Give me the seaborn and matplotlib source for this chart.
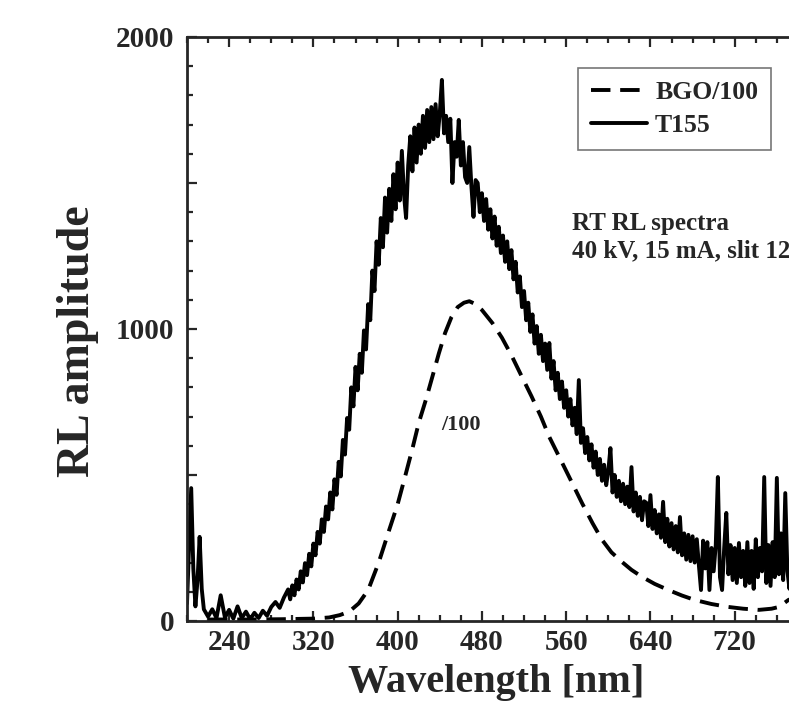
import numpy as np
import pandas as pd
import matplotlib
matplotlib.use("Agg")
import matplotlib.pyplot as plt
from matplotlib.ticker import MultipleLocator, FuncFormatter
import seaborn as sns

sns.set_style("ticks")
plt.rcParams['font.family'] = ['Liberation Serif', 'DejaVu Serif']
plt.rcParams['font.weight'] = 'bold'

## T155 RL spectrum (nm / amplitude)
## low part sampled coarser, from 296 nm on every 2 nm
t155_wl = ([200, 202, 204, 206, 208, 210, 212, 214, 216,
            220, 224, 228, 232, 236, 240, 244, 248, 252, 256, 260, 264, 268, 272, 276, 280,
            284, 288, 292]
           + list(range(296, 798, 2)))
t155_amp = [60, 260, 455, 180, 50, 140, 288, 110, 40,
            15, 40, 10, 88, 12, 38, 8, 50, 10, 32, 6, 28, 10, 35, 18, 48,
            65, 45, 80,
            108, 74, 122, 88, 142, 108, 170, 132, 198, 157,          # 296-314
            230, 187, 265, 225, 305, 265, 348, 305, 392, 348,        # 316-334
            440, 382, 485, 432, 545, 495, 620, 570, 695, 655,        # 336-354
            800, 735, 870, 790, 915, 850, 995, 930, 1085, 1030,      # 356-374
            1200, 1130, 1300, 1220, 1380, 1280, 1450, 1330, 1480, 1370,  # 376-394
            1530, 1410, 1570, 1440, 1610, 1460, 1380, 1560, 1660, 1540,  # 396-414
            1690, 1570, 1700, 1600, 1730, 1620, 1750, 1640, 1760, 1650,  # 416-434
            1770, 1660, 1740, 1853, 1670, 1730, 1640, 1720, 1500, 1640,  # 436-454
            1590, 1716, 1560, 1640, 1520, 1500, 1623, 1490, 1384, 1510,  # 456-474
            1500, 1400, 1465, 1370, 1445, 1340, 1410, 1310, 1385, 1285,  # 476-494
            1350, 1260, 1320, 1230, 1300, 1205, 1270, 1170, 1230, 1125,  # 496-514
            1180, 1075, 1130, 1030, 1090, 990, 1050, 950, 1010, 915,     # 516-534
            980, 890, 950, 860, 952, 830, 890, 790, 850, 760,            # 536-554
            820, 730, 790, 700, 760, 670, 730, 640, 825, 610,            # 556-574
            660, 575, 630, 550, 605, 525, 580, 500, 555, 480,            # 576-594
            535, 465, 515, 592, 440, 500, 425, 480, 410, 470,            # 596-614
            400, 460, 390, 527, 375, 440, 360, 425, 345, 410,            # 616-634
            405, 325, 431, 315, 380, 300, 365, 285, 408, 270,            # 636-654
            350, 255, 335, 245, 325, 235, 356, 225, 300, 210,            # 656-674
            295, 205, 290, 200, 280, 190, 106, 275, 180, 270,            # 676-694
            106, 250, 170, 260, 493, 150, 106, 250, 370, 160,            # 696-714
            260, 140, 250, 130, 267, 150, 240, 120, 270, 130,            # 716-734
            240, 110, 280, 150, 250, 170, 493, 130, 260, 120,            # 736-754
            270, 150, 490, 160, 300, 140, 438, 170, 110, 260,            # 756-774
            150, 300, 170, 320, 180, 260, 140, 280, 170, 250, 190]       # 776-796

## BGO spectrum divided by 100
bgo_wl = [220, 260, 290, 320, 335, 345, 354, 363, 372, 382, 392, 400, 407, 414, 420, 427,
          433, 439, 445, 451, 457, 463, 468, 474, 480, 490, 499, 508, 518, 527, 536, 544,
          556, 566, 575, 585, 594, 603, 613, 622, 632, 644, 657, 670, 682, 698, 714, 728,
          743, 755, 762, 771, 785, 800]
bgo_amp = [5, 5, 6, 8, 12, 20, 32, 60, 106, 200, 312, 400, 494, 590, 678, 760,
           837, 915, 986, 1040, 1075, 1090, 1095, 1085, 1065, 1020, 970, 910, 836, 770, 700, 630,
           543, 470, 404, 335, 278, 235, 202, 175, 151, 127, 106, 87, 72, 58, 48, 42,
           38, 42, 48, 72, 90, 110]

fig = plt.figure(figsize=(7.89, 7.10), dpi=100)
ax = fig.add_axes([0.237, 0.1254, 0.801, 0.8225])

sns.lineplot(x=bgo_wl, y=bgo_amp, ax=ax, color='black', lw=2.8,
             linestyle=(0, (5, 2.5)), label='BGO/100', sort=False)
sns.lineplot(x=t155_wl, y=t155_amp, ax=ax, color='black', lw=2.8,
             label='T155', sort=False)

ax.set_xlim(200, 800)
ax.set_ylim(0, 2000)

ax.xaxis.set_major_locator(MultipleLocator(80))
ax.xaxis.set_minor_locator(MultipleLocator(20))
ax.xaxis.set_major_formatter(FuncFormatter(lambda v, p: '%d' % v if v < 780 else ''))
ax.yaxis.set_major_locator(MultipleLocator(500))
ax.yaxis.set_minor_locator(MultipleLocator(100))
ax.yaxis.set_major_formatter(FuncFormatter(lambda v, p: '%d' % v if v % 1000 == 0 else ''))

ax.tick_params(which='both', direction='in', top=True, right=True, width=1.6)
ax.tick_params(which='major', length=7)
ax.tick_params(which='minor', length=4)
ax.tick_params(axis='x', labelsize=21, pad=6)
ax.tick_params(axis='y', labelsize=21, pad=9)
for s in ax.spines.values():
    s.set_linewidth(2)

ax.set_xlabel('Wavelength [nm]', fontsize=29, fontweight='bold')
ax.set_ylabel('RL amplitude', fontsize=33, fontweight='bold')
ax.xaxis.set_label_coords(0.489, -0.073)
ax.yaxis.set_label_coords(-0.14, 0.48)

ax.text(460, 670, '/100', fontsize=16, fontweight='bold', ha='center', va='center')
fig.text(572 / 789, 1 - 212 / 710, 'RT RL spectra\n40 kV, 15 mA, slit 12',
         fontsize=18, fontweight='bold', ha='left', va='top', linespacing=1.25)

leg = ax.legend(loc='upper left', bbox_to_anchor=(578 / 789, 1 - 68 / 710),
                bbox_transform=fig.transFigure, fontsize=18.5, frameon=True,
                fancybox=False, handlelength=2.2, handletextpad=0.3,
                labelspacing=0.4, borderpad=0.5, borderaxespad=0)
leg.get_frame().set_edgecolor('#555555')
leg.get_frame().set_linewidth(1.2)

plt.savefig('out.png', dpi=100)
